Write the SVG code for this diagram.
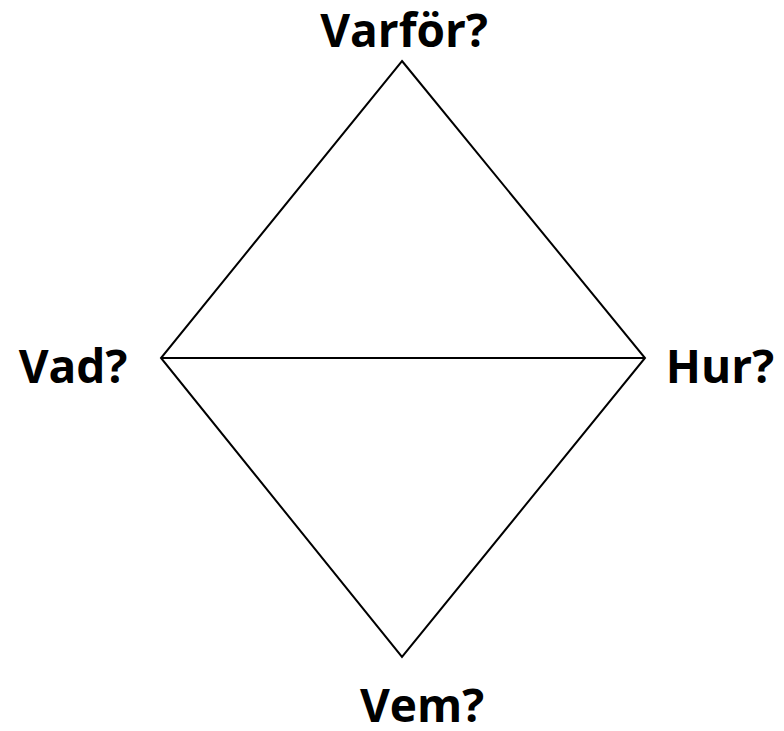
<svg xmlns="http://www.w3.org/2000/svg" width="784" height="731" viewBox="0 0 784 731">
<style>
.lbl{font-family:"Open Sans","Liberation Sans",sans-serif;font-weight:bold;font-size:46px;fill:#000;text-anchor:middle}
.ln{stroke:#000;stroke-width:2;fill:none}
</style>
<rect width="784" height="731" fill="#fff"/>
<g id="connectors">
<path class="ln" d="M402 61 L645 358 L402 657 L161 358 Z"/>
<line class="ln" x1="161" y1="358" x2="645" y2="358"/>
</g>
<g id="varfor"><text class="lbl" x="404" y="47">Varför?</text></g>
<g id="vad"><text class="lbl" x="73" y="383">Vad?</text></g>
<g id="hur"><text class="lbl" x="720" y="383">Hur?</text></g>
<g id="vem"><text class="lbl" x="422" y="722">Vem?</text></g>
</svg>
